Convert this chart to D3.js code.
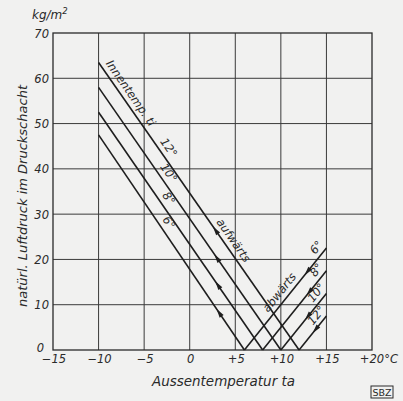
<!DOCTYPE html>
<html>
<head>
<meta charset="utf-8">
<script src="https://cdn.jsdelivr.net/npm/d3@7"></script>
<style>
  html, body { margin: 0; padding: 0; background: #f1f1f0; }
  svg { display: block; }
  text { font-family: "DejaVu Sans", "Liberation Sans", sans-serif; font-style: italic; fill: #2a2a2a; }
</style>
</head>
<body>
<svg id="chart" width="403" height="401"></svg>
<script>
// Innentemperatur ti (one V per value)
const innenTemps = [6, 8, 10, 12];
// natural draught at ta = -10 (left end of the "aufwärts" lines)
const aufwStart = [47.5, 52.5, 58, 63.5];
// natural draught at ta = +15 (right end of the "abwärts" lines)
const abwEnd = [22.5, 17.5, 12.5, 7.5];
// where the arrow heads sit, in ta
const aufwArrowAt = [2.95, 2.8, 2.7, 2.55];
const abwArrowAt = [12.6, 12.8, 12.65, 13.5];

const xTicks = [-15, -10, -5, 0, 5, 10, 15, 20];
const xTickLabels = ['−15', '−10', '−5', '0', '+5', '+10', '+15', '+20'];
const yTicks = [0, 10, 20, 30, 40, 50, 60, 70];

const svg = d3.select('#chart');

const x = d3.scaleLinear().domain([-15, 20]).range([53, 372]);
const y = d3.scaleLinear().domain([0, 70]).range([350, 33]);

// grid
const grid = svg.append('g').attr('stroke', '#3a3a3a').attr('stroke-width', 1);
grid.selectAll('line.v').data(xTicks.slice(1, -1)).join('line')
    .attr('x1', d => x(d)).attr('x2', d => x(d))
    .attr('y1', y(0)).attr('y2', y(70));
grid.selectAll('line.h').data(yTicks.slice(1, -1)).join('line')
    .attr('x1', x(-15)).attr('x2', x(20))
    .attr('y1', d => y(d)).attr('y2', d => y(d));

// frame
svg.append('rect')
    .attr('x', x(-15)).attr('y', y(70))
    .attr('width', x(20) - x(-15)).attr('height', y(0) - y(70))
    .attr('fill', 'none').attr('stroke', '#2a2a2a').attr('stroke-width', 1.3);

// tick labels (the zero sits further left, like the original)
svg.append('g').selectAll('text').data(yTicks).join('text')
    .attr('x', d => d === 0 ? 44 : 49)
    .attr('y', d => d === 0 ? y(d) + 2 : y(d) + 4.5)
    .attr('text-anchor', 'end').attr('font-size', 11.5)
    .text(d => d);

const xl = svg.append('g');
xTicks.forEach((d, i) => {
    const t = xl.append('text')
        .attr('y', 363).attr('font-size', 11.5)
        .attr('text-anchor', 'middle').attr('x', x(d) + 1)
        .text(xTickLabels[i]);
    if (i === xTicks.length - 1) {
        const w = t.node().getComputedTextLength();
        t.attr('text-anchor', 'start').attr('x', x(d) - w / 2);
        t.append('tspan').text('°C');
    }
});

// data lines
const lines = svg.append('g').attr('stroke', '#1e1e1e').attr('stroke-width', 1.6).attr('fill', 'none');
const aufwLine = i => [[-10, aufwStart[i]], [innenTemps[i], 0]];
const abwLine = i => [[innenTemps[i], 0], [15, abwEnd[i]]];
const line = d3.line().x(d => x(d[0])).y(d => y(d[1]));

innenTemps.forEach((t, i) => {
    lines.append('path').attr('d', line(aufwLine(i)));
    lines.append('path').attr('d', line(abwLine(i)));
});

// helpers for positions along a segment
const valueAt = (seg, ta) => {
    const [[x0, y0], [x1, y1]] = seg;
    return y0 + (y1 - y0) * (ta - x0) / (x1 - x0);
};
const angleOf = seg => {
    const [[x0, y0], [x1, y1]] = seg;
    return Math.atan2(y(y1) - y(y0), x(x1) - x(x0)) * 180 / Math.PI;
};

// arrow heads: direction given as the screen angle the tip points to
const arrows = svg.append('g').attr('fill', '#1e1e1e');
const arrowHead = (px, py, deg) => {
    arrows.append('path')
        .attr('d', 'M0,0 L-9,-2.4 L-9,2.4 Z')
        .attr('transform', `translate(${px},${py}) rotate(${deg})`);
};

innenTemps.forEach((t, i) => {
    const a = aufwLine(i);
    const ta = aufwArrowAt[i];
    arrowHead(x(ta), y(valueAt(a, ta)), angleOf(a) + 180);

    const b = abwLine(i);
    const tb = abwArrowAt[i];
    arrowHead(x(tb), y(valueAt(b, tb)), angleOf(b) + 180);
});

// text along a segment, baseline offset towards the upper side
const labels = svg.append('g');
const alongLabel = (seg, ta, txt, size, anchor, off) => {
    const px = x(ta), py = y(valueAt(seg, ta));
    labels.append('text')
        .attr('transform', `translate(${px},${py}) rotate(${angleOf(seg)})`)
        .attr('dy', off).attr('font-size', size)
        .attr('text-anchor', anchor)
        .text(txt);
};

alongLabel(aufwLine(3), -9.7, 'Innentemp. ti', 11.5, 'start', -5);
innenTemps.forEach((t, i) => {
    alongLabel(aufwLine(i), -3.1, t + '°', 11.5, 'middle', -5);
    alongLabel(abwLine(i), 14.6, t + '°', 11.5, 'middle', -4.5);
});
alongLabel(aufwLine(3), 4.0, 'aufwärts', 11.5, 'middle', -5);
alongLabel(abwLine(0), 10.6, 'abwärts', 11.5, 'middle', -5);

// axis titles
svg.append('text')
    .attr('x', 32).attr('y', 19).attr('font-size', 12)
    .html('kg/m<tspan dy="-5" font-size="8.5">2</tspan>');

svg.append('text')
    .attr('transform', 'translate(27,196) rotate(-90)')
    .attr('text-anchor', 'middle').attr('font-size', 12)
    .attr('textLength', 222).attr('lengthAdjust', 'spacingAndGlyphs')
    .text('natürl. Luftdruck im Druckschacht');

svg.append('text')
    .attr('x', 152).attr('y', 386)
    .attr('font-size', 13.5)
    .attr('textLength', 143).attr('lengthAdjust', 'spacingAndGlyphs')
    .text('Aussentemperatur ta');

// SBZ stamp
const stamp = svg.append('g').attr('transform', 'translate(371,386)');
stamp.append('rect').attr('width', 22).attr('height', 12)
    .attr('fill', 'none').attr('stroke', '#2a2a2a').attr('stroke-width', 1);
stamp.append('text').attr('x', 11).attr('y', 10).attr('text-anchor', 'middle')
    .attr('font-size', 9.5).style('font-style', 'normal').text('SBZ');
</script>
</body>
</html>
